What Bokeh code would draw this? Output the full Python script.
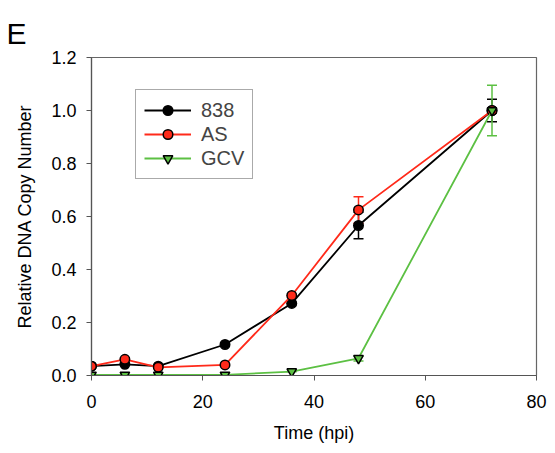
from bokeh.plotting import figure
from bokeh.models import (ColumnDataSource, Whisker, TeeHead, Legend, LegendItem,
                          FixedTicker, NumeralTickFormatter)
from bokeh.embed import file_html
from bokeh.resources import INLINE

time = [0, 6, 12, 24, 36, 48, 72]
s838 = [0.035, 0.042, 0.035, 0.117, 0.272, 0.566, 1.0]
e838 = [0.0, 0.0, 0.0, 0.0, 0.0, 0.05, 0.042]
sAS = [0.035, 0.061, 0.031, 0.040, 0.302, 0.625, 1.0]
eAS = [0.0, 0.0, 0.0, 0.0, 0.0, 0.05, 0.01]
sGCV = [0.002, 0.002, 0.002, 0.002, 0.015, 0.065, 1.0]
eGCV = [0.0, 0.0, 0.0, 0.0, 0.0, 0.01, 0.095]
x_ticks = [0, 20, 40, 60, 80]
y_ticks = [0.0, 0.2, 0.4, 0.6, 0.8, 1.0, 1.2]
panel_letter = "E"

FONT = "Liberation Sans"

p = figure(width=547, height=445, output_backend="svg", toolbar_location=None,
           x_range=(0, 80), y_range=(0, 1.2),
           min_border_left=91, min_border_right=11, min_border_top=57, min_border_bottom=67)
p.background_fill_color = "white"
p.border_fill_color = "white"
p.outline_line_color = "#666666"
p.outline_line_width = 1.2
p.grid.visible = False

p.title.text = panel_letter
p.title.text_font = FONT
p.title.text_font_size = "30px"
p.title.text_font_style = "normal"
p.title.text_color = "black"
p.title.align = "left"
p.title.offset = -85
p.title.standoff = 16

for ax in (p.xaxis[0], p.yaxis[0]):
    ax.axis_line_color = "#555555"
    ax.axis_line_width = 1.2
    ax.major_tick_line_color = "#555555"
    ax.major_tick_out = 5
    ax.major_tick_in = 0
    ax.minor_tick_line_color = None
    ax.major_label_text_font = FONT
    ax.major_label_text_font_size = "18px"
    ax.major_label_text_color = "black"
    ax.axis_label_text_font = FONT
    ax.axis_label_text_font_size = "18px"
    ax.axis_label_text_font_style = "normal"
    ax.axis_label_text_color = "black"

p.xaxis.ticker = FixedTicker(ticks=x_ticks)
p.yaxis.ticker = FixedTicker(ticks=y_ticks)
p.yaxis.formatter = NumeralTickFormatter(format="0.0")
p.xaxis.axis_label = "Time (hpi)"
p.yaxis.axis_label = "Relative DNA Copy Number"
p.xaxis.major_label_standoff = 14
p.yaxis.major_label_standoff = 10
p.xaxis.axis_label_standoff = 12
p.yaxis.axis_label_standoff = 13

series = [
    ("838", s838, e838, "black", "black", "circle"),
    ("AS", sAS, eAS, "#ff2a1a", "#ff2a1a", "circle"),
    ("GCV", sGCV, eGCV, "#5cc043", "#5cc043", "inverted_triangle"),
]

items = []
for name, vals, errs, lc, fc, mk in series:
    lower = [v - e for v, e in zip(vals, errs)]
    upper = [v + e for v, e in zip(vals, errs)]
    src = ColumnDataSource(dict(x=time, y=vals, lo=lower, up=upper))
    w = Whisker(base="x", lower="lo", upper="up", source=src,
                line_color=lc, line_width=1.5,
                upper_head=TeeHead(size=10, line_color=lc, line_width=1.5),
                lower_head=TeeHead(size=10, line_color=lc, line_width=1.5))
    p.add_layout(w)
    r1 = p.line("x", "y", source=src, line_color=lc, line_width=1.8)
    r2 = p.scatter("x", "y", source=src, marker=mk, size=9.5, fill_color=fc,
                   line_color="black", line_width=1.5)
    items.append(LegendItem(label=name, renderers=[r1, r2]))

legend = Legend(items=items, location=(44, 196),
                label_text_font=FONT, label_text_font_size="20px",
                glyph_width=47, glyph_height=24, label_standoff=10,
                spacing=0, padding=8, margin=0,
                border_line_color="#555555", border_line_width=1.2,
                background_fill_alpha=1.0)
p.add_layout(legend, "center")

open("out.html", "w").write(file_html(p, INLINE))
